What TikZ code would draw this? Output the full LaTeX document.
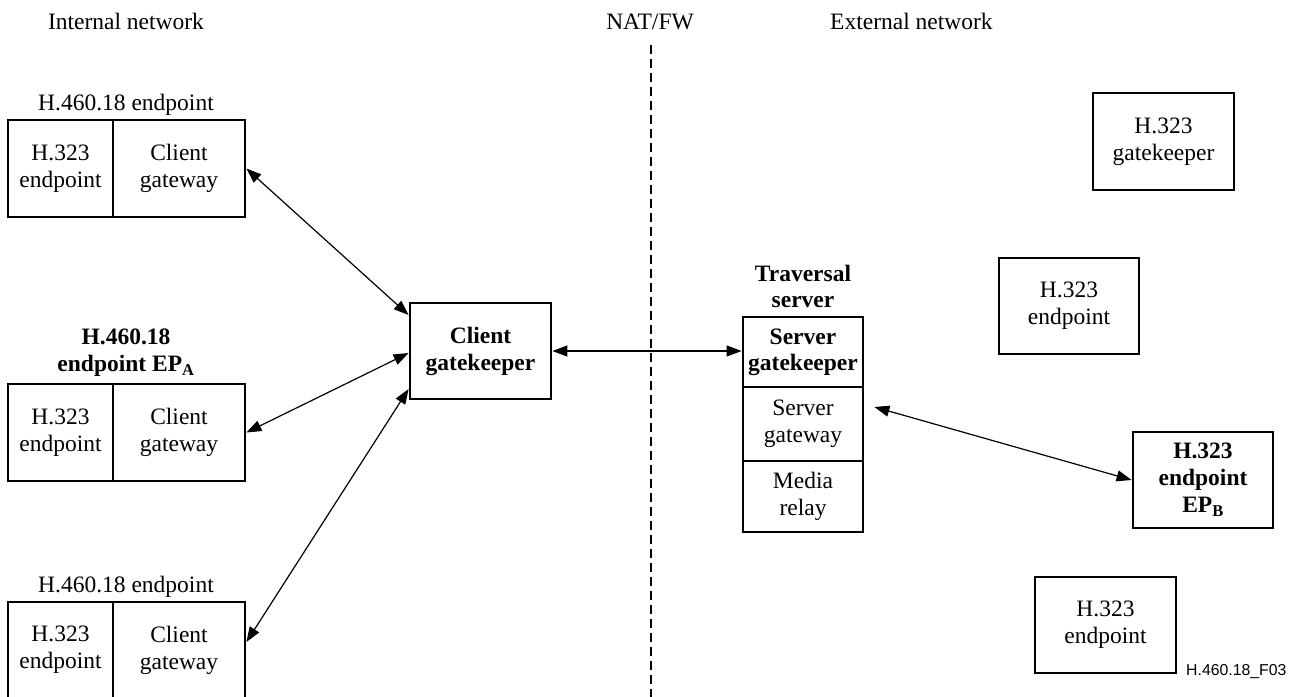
\documentclass[tikz,border=0pt]{standalone}
\usepackage{fontspec}
\setmainfont{Liberation Serif}
\newfontfamily\labelfont{Liberation Sans}
\usetikzlibrary{arrows.meta}
\begin{document}
\begin{tikzpicture}[x=1pt,y=-1pt,
  font=\fontsize{23.5}{27}\selectfont,
  cell/.style={draw, line width=2.8pt, inner sep=0pt, align=center},
  lbl/.style={inner sep=0pt, align=center},
  conn/.style={<->, >={Triangle[length=15pt,width=11pt]}, line width=1.2pt},
  fw/.style={line width=1.1pt, dash pattern=on 9pt off 5pt}]
\useasboundingbox (0,0) rectangle (1300,696);

% headers
\node[lbl, anchor=base] (hint) at (126,29) {Internal network};
\node[lbl, anchor=base] (hnat) at (650,29) {NAT/FW};
\node[lbl, anchor=base west] (hext) at (830,29) {External network};

% NAT/FW boundary
\coordinate (fwtop) at (651,45);
\coordinate (fwbot) at (651,700);
\draw[fw] (fwtop) -- (fwbot);

% left endpoints
\node[lbl, anchor=base] (l1) at (126,110) {H.460.18 endpoint};
\node[cell, minimum width=105pt, minimum height=97pt] (e1a) at (60.5,168.5) {H.323\\endpoint};
\node[cell, minimum width=132pt, minimum height=97pt] (e1b) at (179,168.5) {Client\\gateway};

\node[lbl, font=\fontsize{23.5}{27}\selectfont\bfseries] (l2) at (126,353) {H.460.18\\endpoint EP\textsubscript{A}};
\node[cell, minimum width=105pt, minimum height=97pt] (e2a) at (60.5,432.5) {H.323\\endpoint};
\node[cell, minimum width=132pt, minimum height=97pt] (e2b) at (179,432.5) {Client\\gateway};

\node[lbl, anchor=base] (l3) at (126,592) {H.460.18 endpoint};
\node[cell, minimum width=105pt, minimum height=96pt] (e3a) at (60.5,650) {H.323\\endpoint};
\node[cell, minimum width=132pt, minimum height=96pt] (e3b) at (179,650) {Client\\gateway};

% client gatekeeper
\node[cell, minimum width=141pt, minimum height=96pt, font=\fontsize{23.5}{27}\selectfont\bfseries] (cgk) at (480.5,351) {Client\\gatekeeper};

% traversal server
\node[lbl, font=\fontsize{23.5}{26}\selectfont\bfseries] (tsl) at (803,286.5) {Traversal\\server};
\node[cell, minimum width=120pt, minimum height=70pt, font=\fontsize{23.5}{26}\selectfont\bfseries] (sgk) at (803,352) {Server\\gatekeeper};
\node[cell, minimum width=120pt, minimum height=74pt] (sgw) at (803,424) {Server\\gateway};
\node[cell, minimum width=120pt, minimum height=71pt] (mr) at (803,496.5) {Media\\relay};

% external network
\node[cell, minimum width=141pt, minimum height=97pt] (xgk) at (1163.5,141.5) {H.323\\gatekeeper};
\node[cell, minimum width=140pt, minimum height=96pt] (xep1) at (1069,306) {H.323\\endpoint};
\node[cell, minimum width=140pt, minimum height=96pt, font=\fontsize{23.5}{27}\selectfont\bfseries] (epb) at (1203,480) {H.323\\endpoint\\EP\textsubscript{B}};
\node[cell, minimum width=141pt, minimum height=96pt] (xep2) at (1105.5,625) {H.323\\endpoint};

\node[lbl, anchor=base west, font=\labelfont\fontsize{15.8}{18}\selectfont] (fig) at (1186,675) {H.460.18\_F03};

% connectors
\draw[conn] (e1b.east) -- ([yshift=36pt]cgk.west);
\draw[conn] (e2b.east) -- ([yshift=-2pt]cgk.west);
\draw[conn] ([yshift=8pt]e3b.east) -- ([yshift=-38pt]cgk.west);
\draw[conn] (cgk.east) -- (cgk.east -| sgk.west);
\draw[conn] ([xshift=10pt,yshift=17pt]sgw.east) -- (epb.west);
\end{tikzpicture}
\end{document}
